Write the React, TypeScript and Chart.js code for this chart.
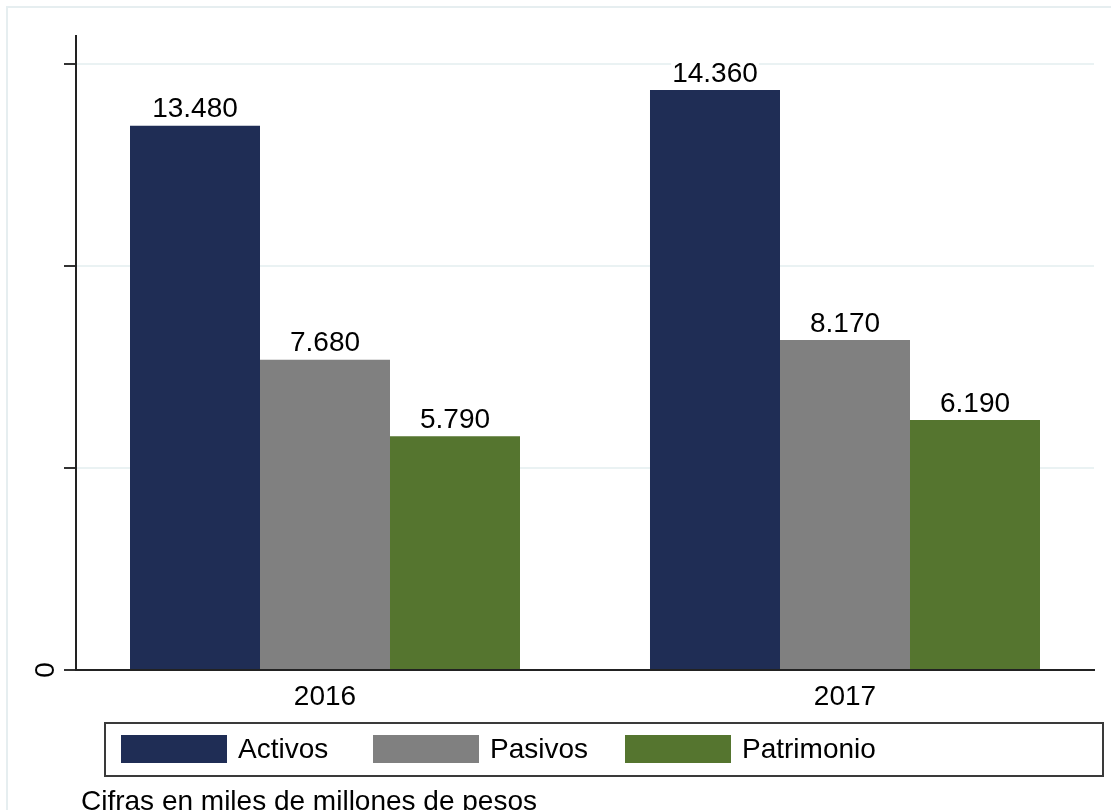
import { useEffect, useRef } from 'react';
import { Chart, registerables } from 'chart.js';

Chart.register(...registerables);

const categories = ['2016', '2017'];
const activos = [13480, 14360];
const pasivos = [7680, 8170];
const patrimonio = [5790, 6190];
const seriesNames = ['Activos', 'Pasivos', 'Patrimonio'];
const seriesColors = ['#1f2d55', '#808080', '#55752f'];
const yTicks = [0, 5000, 10000, 15000];
const yLabeledTicks = [0];
const caption = 'Cifras en miles de millones de pesos';

const FONT = "'Liberation Sans', Arial, Helvetica, sans-serif";

function fmt(v: number): string {
  return String(v).replace(/\B(?=(\d{3})+(?!\d))/g, '.');
}

const framePlugin = {
  id: 'outerFrame',
  beforeDraw(chart: any) {
    const ctx = chart.ctx;
    ctx.save();
    ctx.fillStyle = '#ffffff';
    ctx.fillRect(0, 0, chart.width, chart.height);
    ctx.strokeStyle = '#e6eef0';
    ctx.lineWidth = 2;
    ctx.strokeRect(7, 7, chart.width + 20, chart.height + 20);
    ctx.restore();
  },
};

const barLabelPlugin = {
  id: 'barLabels',
  afterDatasetsDraw(chart: any) {
    const ctx = chart.ctx;
    ctx.save();
    ctx.font = `28px ${FONT}`;
    ctx.textAlign = 'center';
    ctx.textBaseline = 'alphabetic';
    chart.data.datasets.forEach((ds: any, di: number) => {
      const meta = chart.getDatasetMeta(di);
      meta.data.forEach((el: any, i: number) => {
        const v = ds.data[i].y;
        const txt = fmt(v);
        const w = ctx.measureText(txt).width;
        const base = el.y - 8.5;
        ctx.fillStyle = '#ffffff';
        ctx.fillRect(el.x - w / 2 - 1, base - 22, w + 2, 23);
        ctx.fillStyle = '#000000';
        ctx.fillText(txt, el.x, base);
      });
    });
    ctx.restore();
  },
};

const legendPlugin = {
  id: 'boxLegend',
  afterDraw(chart: any) {
    const ctx = chart.ctx;
    ctx.save();
    ctx.strokeStyle = '#3a3a3a';
    ctx.lineWidth = 2;
    ctx.strokeRect(105, 723, 998, 53);
    ctx.font = `28px ${FONT}`;
    ctx.textAlign = 'left';
    ctx.textBaseline = 'middle';
    chart.data.datasets.forEach((ds: any, i: number) => {
      const x0 = 121 + i * 252;
      ctx.fillStyle = ds.backgroundColor;
      ctx.fillRect(x0, 735, 106, 28);
      ctx.fillStyle = '#000000';
      ctx.fillText(ds.label, x0 + 117, 750);
    });
    ctx.textBaseline = 'alphabetic';
    ctx.fillText(caption, 81, 810);
    ctx.restore();
  },
};

export default function App() {
  const ref = useRef<HTMLCanvasElement | null>(null);

  useEffect(() => {
    if (!ref.current) return;
    Chart.defaults.font.family = FONT;
    Chart.defaults.font.size = 28;
    Chart.defaults.color = '#000000';
    const series = [activos, pasivos, patrimonio];
    const chart = new Chart(ref.current, {
      type: 'bar',
      data: {
        datasets: series.map((vals, si) => ({
          label: seriesNames[si],
          data: vals.map((v, i) => ({ x: i, y: v })),
          backgroundColor: seriesColors[si],
          borderWidth: 0,
          barPercentage: 1,
          categoryPercentage: 0.75,
        })),
      },
      options: {
        responsive: false,
        animation: false,
        devicePixelRatio: 1,
        layout: { padding: { top: 36, right: 17, left: 0, bottom: 0 } },
        plugins: {
          legend: { display: false },
          tooltip: { enabled: false },
        },
        scales: {
          x: {
            type: 'linear',
            offset: false,
            min: -0.47885,
            max: 1.47885,
            z: 1,
            afterBuildTicks: (scale: any) => {
              scale.ticks = categories.map((_, i) => ({ value: i }));
            },
            afterFit: (scale: any) => {
              scale.height = 140;
            },
            grid: { display: false, drawTicks: false },
            border: { display: true, color: '#222222', width: 2 },
            ticks: {
              padding: 10,
              font: { size: 28, family: FONT },
              color: '#000000',
              callback: (v: any) => categories[Math.round(Number(v))] ?? '',
            },
          },
          y: {
            type: 'linear',
            min: 0,
            max: 15700,
            afterBuildTicks: (scale: any) => {
              scale.ticks = yTicks.map((v) => ({ value: v }));
            },
            afterFit: (scale: any) => {
              scale.width = 76;
            },
            grid: {
              color: '#eaf2f3',
              lineWidth: 2,
              drawTicks: true,
              tickLength: 12,
              tickColor: '#333333',
              tickWidth: 2,
            },
            border: { display: true, color: '#222222', width: 2 },
            ticks: {
              minRotation: 90,
              maxRotation: 90,
              crossAlign: 'center',
              padding: 10,
              font: { size: 28, family: FONT },
              color: '#000000',
              callback: (v: any) => (yLabeledTicks.includes(Number(v)) ? String(v) : ''),
            },
          },
        },
      },
      plugins: [framePlugin, barLabelPlugin, legendPlugin],
    } as any);
    return () => chart.destroy();
  }, []);

  return (
    <div style={{ position: 'absolute', left: 0, top: 0, width: 1111, height: 810, overflow: 'hidden' }}>
      <canvas ref={ref} width={1111} height={810} style={{ display: 'block', width: 1111, height: 810 }} />
    </div>
  );
}
